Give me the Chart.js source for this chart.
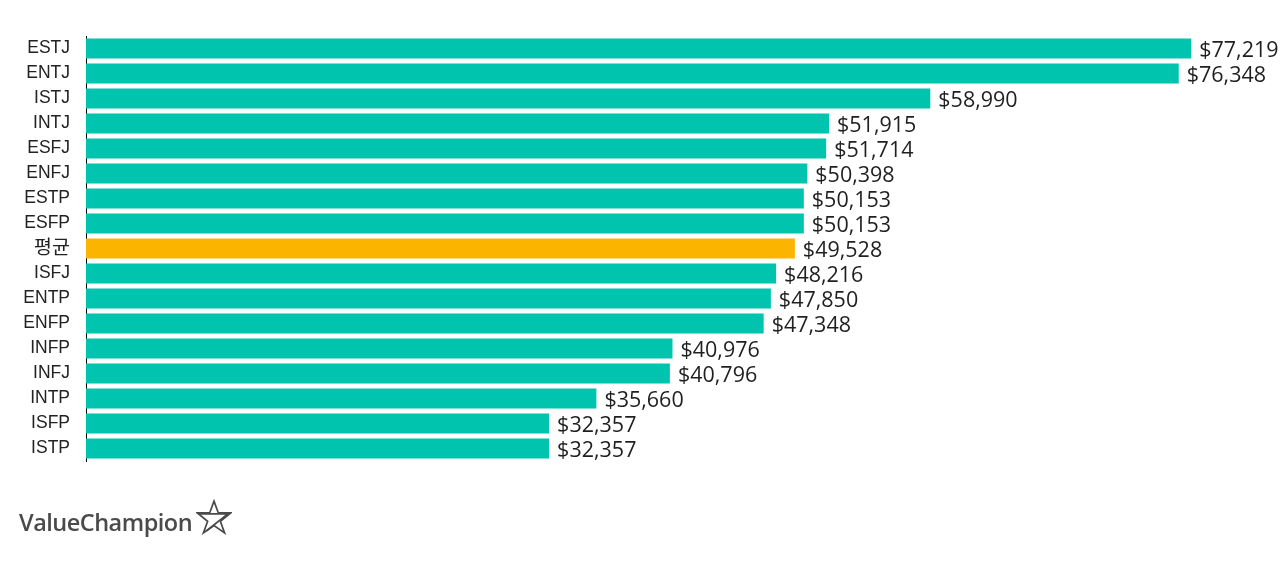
<!DOCTYPE html>
<html>
<head>
<meta charset="utf-8">
<script src="https://cdn.jsdelivr.net/npm/chart.js@4.4.1/dist/chart.umd.min.js"></script>
<style>
  html, body { margin: 0; padding: 0; background: #fff; }
  #wrap { position: relative; width: 1280px; height: 562px; }
  #logo {
    position: absolute; left: 19px; top: 506px;
    font-family: "Open Sans", sans-serif; font-size: 23.5px; font-weight: 600; color: #4a4a4a;
    letter-spacing: -0.5px; display: flex; align-items: center;
  }
  #logo svg { margin-left: 4px; margin-top: -10px; }
</style>
</head>
<body>
<div id="wrap">
  <canvas id="chart" width="1280" height="562"></canvas>
  <div id="logo">ValueChampion<svg width="36" height="36" viewBox="0 0 34 34">
    <path d="M17 2 L21 13 L33 13 L23 21 L27 32 L17 25 L7 32 L11 21 L1 13 L13 13 Z" fill="none" stroke="#4a4a4a" stroke-width="1.6" stroke-linejoin="miter"/>
    <path d="M3 14 L30 14 L10 30" fill="none" stroke="#4a4a4a" stroke-width="1.6"/>
  </svg></div>
</div>
<script>
// Salary by personality type
const types = ['ESTJ', 'ENTJ', 'ISTJ', 'INTJ', 'ESFJ', 'ENFJ', 'ESTP', 'ESFP', '평균',
               'ISFJ', 'ENTP', 'ENFP', 'INFP', 'INFJ', 'INTP', 'ISFP', 'ISTP'];
const salaries = [77219, 76348, 58990, 51915, 51714, 50398, 50153, 50153, 49528,
                  48216, 47850, 47348, 40976, 40796, 35660, 32357, 32357];
const averageLabel = '평균';

const teal = '#00c4ae';
const orange = '#fbb400';

const barColors = types.map(t => t === averageLabel ? orange : teal);

// Draw "$xx,xxx" at the end of each bar
const valueLabels = {
    id: 'valueLabels',
    afterDatasetsDraw(chart) {
        const ctx = chart.ctx;
        const meta = chart.getDatasetMeta(0);
        ctx.save();
        ctx.font = '21.5px "Open Sans", sans-serif';
        ctx.fillStyle = '#1f1f1f';
        ctx.textBaseline = 'middle';
        ctx.textAlign = 'left';
        meta.data.forEach((bar, i) => {
            const text = '$' + salaries[i].toLocaleString('en-US');
            ctx.fillText(text, bar.x + 8, bar.y + 2);
        });
        ctx.restore();
    }
};

new Chart(document.getElementById('chart'), {
    type: 'bar',
    data: {
        labels: types,
        datasets: [{
            data: salaries,
            backgroundColor: barColors,
            borderWidth: 0,
            categoryPercentage: 1.0,
            barPercentage: 0.8
        }]
    },
    options: {
        indexAxis: 'y',
        responsive: false,
        animation: false,
        layout: {
            padding: { top: 36, bottom: 101, left: 0, right: 49 }
        },
        plugins: {
            legend: { display: false },
            tooltip: { enabled: false }
        },
        scales: {
            x: {
                min: 0,
                max: 80000,
                display: false
            },
            y: {
                afterFit(scale) { scale.width = 86; },
                grid: { display: false, drawTicks: false },
                border: { display: true, color: '#000', width: 1 },
                ticks: {
                    autoSkip: false,
                    padding: 16,
                    color: '#222',
                    font: ctx => ({
                        family: '"Liberation Sans", "Noto Sans CJK KR", sans-serif',
                        size: types[ctx.index] === averageLabel ? 19.5 : 17.5
                    })
                }
            }
        }
    },
    plugins: [valueLabels]
});
</script>
</body>
</html>
